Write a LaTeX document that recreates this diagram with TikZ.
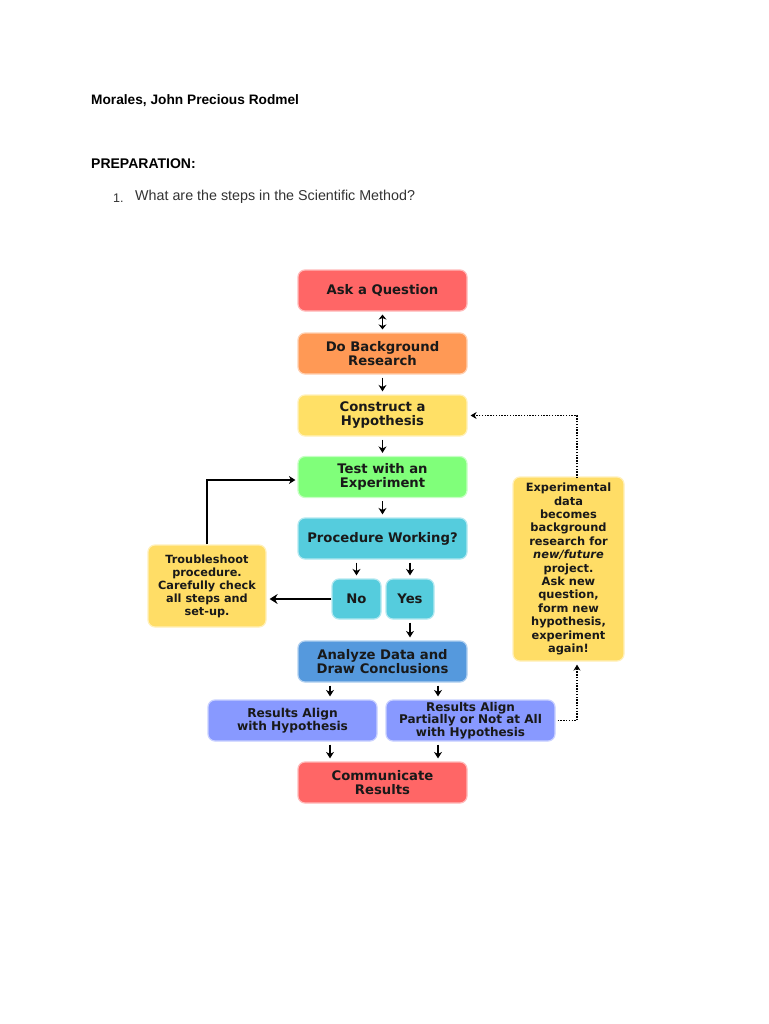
\documentclass[tikz,border=0pt]{standalone}
\usepackage{fontspec}
\setmainfont{Liberation Sans}
\newfontfamily\vd{DejaVu Sans}
\usetikzlibrary{arrows.meta}
\definecolor{askred}{HTML}{FF6666}
\definecolor{bgorange}{HTML}{FF9955}
\definecolor{hypyellow}{HTML}{FFE066}
\definecolor{testgreen}{HTML}{80FF7A}
\definecolor{proccyan}{HTML}{55CCDD}
\definecolor{anablue}{HTML}{5599DD}
\definecolor{resviolet}{HTML}{8899FF}
\definecolor{trouble}{HTML}{FFDD66}
\definecolor{qgray}{HTML}{333333}
\tikzset{
  box/.style={rounded corners=7pt, fill=#1, draw=#1!45!white, line width=1.2pt,
    align=center, inner sep=0pt, text=black!90,
    font=\vd\bfseries\fontsize{13.2}{14}\selectfont},
  mainbox/.style={box=#1, minimum width=169pt, minimum height=41pt},
  arr/.style={-{Stealth[length=6.5pt,width=8pt]}, line width=1.6pt, black},
  thickarr/.style={-{Stealth[length=8pt,width=10pt]}, line width=2.6pt, black},
  dots/.style={line width=1.6pt, dash pattern=on 1.4pt off 1.4pt, black},
  dotarr/.style={dots, -{Stealth[length=6pt,width=7pt]}},
  hdr/.style={anchor=west, inner sep=0pt, font=\bfseries\fontsize{13.7}{15}\selectfont}
}
\begin{document}
\begin{tikzpicture}[x=1pt,y=-1pt]
\useasboundingbox (0,0) rectangle (768,1024);
\fill[white] (0,0) rectangle (768,1024);

\node[hdr] (name) at (91,101) {Morales, John Precious Rodmel};
\node[hdr, font=\bfseries\fontsize{14}{15}\selectfont] (prep) at (91,164) {PREPARATION:};
\node[anchor=west, inner sep=0pt, text=qgray, font=\fontsize{12.5}{14}\selectfont] (num) at (113,198) {1.};
\node[anchor=west, inner sep=0pt, text=qgray, font=\fontsize{14.3}{15}\selectfont] (q) at (135,197) {What are the steps in the Scientific Method?};

\node[mainbox=askred] (ask) at (382.5,290.5) {Ask a Question};
\node[mainbox=bgorange] (bg) at (382.5,353.5) {Do Background\\Research};
\node[mainbox=hypyellow] (hyp) at (382.5,415.5) {Construct a\\Hypothesis};
\node[mainbox=testgreen] (test) at (382.5,477) {Test with an\\Experiment};
\node[mainbox=proccyan] (proc) at (382.5,538.5) {Procedure Working?};
\node[box=proccyan, minimum width=49pt, minimum height=40pt] (no) at (356.5,599) {No};
\node[box=proccyan, minimum width=48pt, minimum height=40pt] (yes) at (410,599) {Yes};
\node[box=trouble, minimum width=118pt, minimum height=82pt,
  font=\vd\bfseries\fontsize{11.3}{13}\selectfont] (tr) at (207,586)
  {Troubleshoot\\procedure.\\Carefully check\\all steps and\\set-up.};
\node[mainbox=anablue] (ana) at (382.5,661.5) {Analyze Data and\\Draw Conclusions};
\node[mainbox=resviolet, font=\vd\bfseries\fontsize{12.2}{13}\selectfont] (ra) at (292.5,720.5) {Results Align\\with Hypothesis};
\node[mainbox=resviolet, font=\vd\bfseries\fontsize{12}{11.5}\selectfont] (rp) at (470.5,720.5) {Results Align\\Partially or Not at All\\with Hypothesis};
\node[mainbox=askred] (comm) at (382.5,782.5) {Communicate\\Results};
\node[box=trouble, minimum width=111pt, minimum height=184pt,
  font=\vd\bfseries\fontsize{11.4}{13.4}\selectfont] (exp) at (568.5,569)
  {Experimental\\data\\becomes\\background\\research for\\\textit{new/future}\\project.\\Ask new\\question,\\form new\\hypothesis,\\experiment\\again!};

\coordinate (cl) at (330,0);
\coordinate (cr) at (438,0);
\coordinate (cd) at (577,0);

\draw[{Stealth[length=5pt,width=8pt]}-{Stealth[length=5pt,width=8pt]}, line width=1.6pt, shorten <=3pt, shorten >=3pt] (ask.south) -- (bg.north);
\draw[arr, shorten <=3pt, shorten >=3pt] (bg.south) -- (hyp.north);
\draw[arr, shorten <=3pt, shorten >=3pt] (hyp.south) -- (test.north);
\draw[arr, shorten <=3pt, shorten >=3pt] (test.south) -- (proc.north);
\draw[arr, shorten <=3pt, shorten >=3pt] (no.north |- proc.south) -- (no.north);
\draw[arr, shorten <=3pt, shorten >=3pt] (yes.north |- proc.south) -- (yes.north);
\draw[thickarr, shorten >=3pt] (no.west) -- (no.west -| tr.east);
\draw[arr, shorten >=2pt] (tr.north) |- ([yshift=-3pt]test.west);
\draw[arr, shorten <=3pt, shorten >=3pt] (yes.south) -- (yes.south |- ana.north);
\draw[arr, shorten <=3pt, shorten >=3pt] (cl |- ana.south) -- (cl |- ra.north);
\draw[arr, shorten <=3pt, shorten >=3pt] (cr |- ana.south) -- (cr |- rp.north);
\draw[arr, shorten <=3pt, shorten >=3pt] (cl |- ra.south) -- (cl |- comm.north);
\draw[arr, shorten <=3pt, shorten >=3pt] (cr |- rp.south) -- (cr |- comm.north);
\draw[dotarr, shorten >=3pt] ([xshift=2pt]rp.east) -- (rp.east -| cd) -- (cd |- exp.south);
\draw[dotarr, shorten >=3pt] ([yshift=-2pt]cd |- exp.north) |- (hyp.east);
\end{tikzpicture}
\end{document}
